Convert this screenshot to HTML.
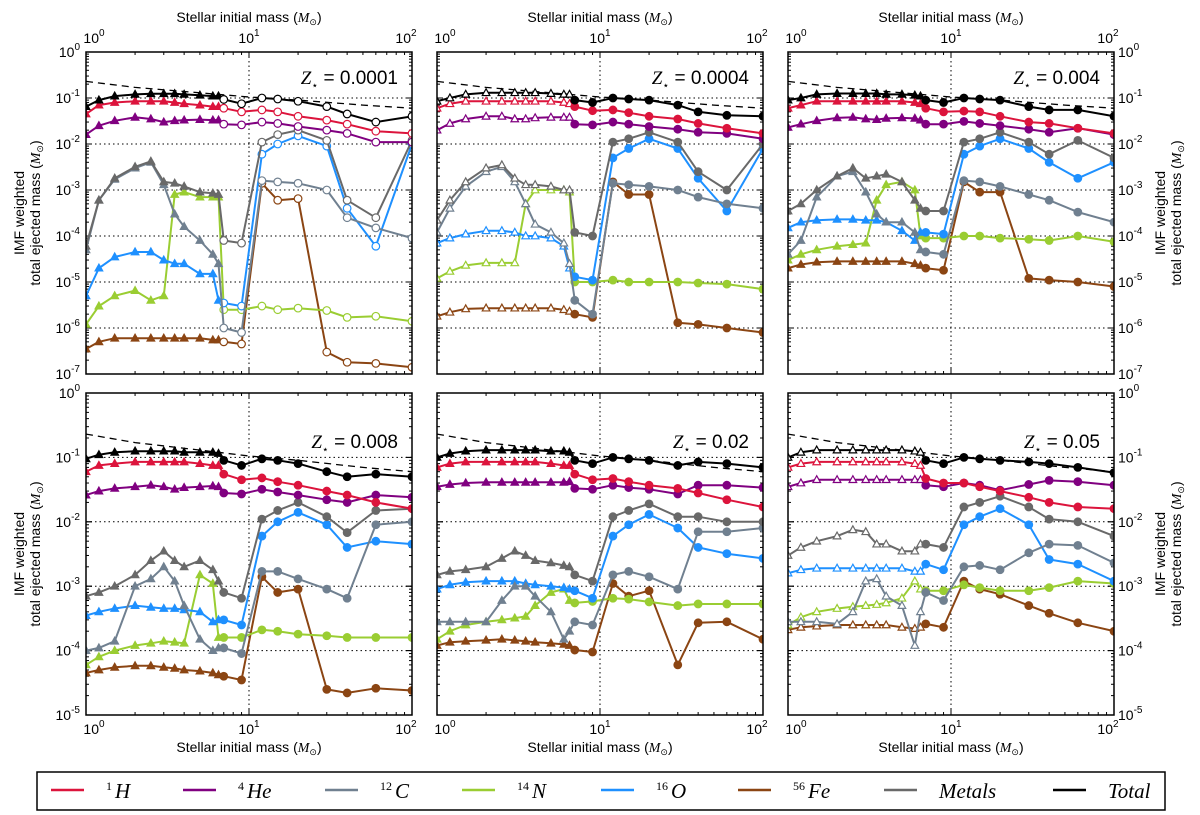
<!DOCTYPE html>
<html><head><meta charset="utf-8"><title>IMF weighted ejected mass</title>
<style>
html,body{margin:0;padding:0;background:#fff;}
svg{display:block;font-family:"Liberation Sans","DejaVu Sans",sans-serif;}
.tl{font-size:14px;fill:#000;}
.ser{font-family:"Liberation Serif",serif;font-style:italic;}
</style></head>
<body>
<svg id="chart" width="1200" height="815" viewBox="0 0 1200 815" xmlns="http://www.w3.org/2000/svg">
<rect width="1200" height="815" fill="#fff"/>
<g id="panels"></g>
<g id="legend"></g>
</svg>
<script>
// ---- data ----
const masses=[1,1.2,1.5,2,2.5,3,3.5,4,5,6,6.5,7,9,12,15,20,30,40,60,100];
const dashMasses=[1,2,5,10,20,50,100];
const dashVals=[0.23,0.17,0.13,0.105,0.09,0.07,0.06];
const panelZ=["0.0001","0.0004","0.004","0.008","0.02","0.05"];

const p1Total=[0.065,0.09,0.11,0.12,0.124,0.124,0.124,0.12,0.115,0.11,0.11,0.093,0.075,0.1,0.095,0.085,0.065,0.045,0.03,0.04];
const p1H=[0.045,0.07,0.08,0.085,0.085,0.085,0.08,0.075,0.07,0.065,0.065,0.06,0.05,0.055,0.05,0.04,0.033,0.027,0.019,0.017];
const p1He=[0.016,0.025,0.032,0.038,0.035,0.03,0.032,0.033,0.034,0.033,0.033,0.027,0.026,0.03,0.028,0.024,0.02,0.017,0.011,0.011];
const p1Metals=[6e-5,6e-4,1.8e-3,3.2e-3,4.2e-3,1.5e-3,1.4e-3,1.2e-3,9e-4,8.5e-4,8e-4,8e-5,7e-5,1.1e-2,1.6e-2,2e-2,1.2e-2,6e-4,2.5e-4,1.2e-2];
const p1C=[5e-5,6e-4,1.7e-3,3e-3,4e-3,1.3e-3,3e-4,1.6e-4,8e-5,4e-5,2.5e-5,1e-6,8e-7,1.6e-3,1.5e-3,1.4e-3,1e-3,2.5e-4,1.5e-4,9e-5];
const p1O=[5e-6,2e-5,3.5e-5,4.5e-5,4.5e-5,3e-5,2.5e-5,2.5e-5,1.5e-5,1.5e-5,4e-6,3.5e-6,3e-6,6e-3,1e-2,1.5e-2,9e-3,4e-4,6e-5,1e-2];
const p1N=[1.2e-6,3e-6,5e-6,6.5e-6,4e-6,5e-6,8e-4,9e-4,7e-4,7e-4,7e-4,2.5e-6,2.5e-6,3e-6,2.5e-6,2.7e-6,2.4e-6,1.7e-6,1.8e-6,1.4e-6];
const p1Fe=[3.5e-7,5e-7,6e-7,6e-7,6e-7,6e-7,6e-7,6e-7,6e-7,5.5e-7,5.5e-7,5e-7,4.5e-7,1.4e-3,6e-4,6.5e-4,3e-7,1.8e-7,1.7e-7,1.4e-7];

const p2Total=[0.085,0.1,0.12,0.13,0.13,0.13,0.13,0.13,0.125,0.12,0.12,0.09,0.08,0.1,0.095,0.09,0.07,0.05,0.042,0.04];
const p2H=[0.06,0.075,0.085,0.085,0.085,0.085,0.085,0.085,0.085,0.08,0.075,0.065,0.053,0.055,0.048,0.04,0.035,0.028,0.022,0.017];
const p2He=[0.02,0.028,0.035,0.04,0.04,0.035,0.035,0.037,0.038,0.038,0.038,0.027,0.026,0.03,0.027,0.024,0.021,0.018,0.017,0.013];
const p2Metals=[2.2e-4,6e-4,1.5e-3,3e-3,3.5e-3,1.8e-3,1.3e-3,1.3e-3,1.2e-3,1e-3,1e-3,1.2e-4,1e-4,1.1e-2,1.3e-2,1.8e-2,1.1e-2,2.5e-3,1e-3,1e-2];
const p2C=[1.2e-4,4e-4,1.2e-3,2.5e-3,3.2e-3,1.5e-3,5e-4,1.8e-4,1.2e-4,7e-5,2.5e-5,4e-6,2e-6,1.4e-3,1.3e-3,1.2e-3,1e-3,7e-4,5e-4,4e-4];
const p2O=[7e-5,9e-5,1.1e-4,1.3e-4,1.3e-4,1.2e-4,1e-4,1e-4,9e-5,6e-5,2e-5,1.3e-5,1.1e-5,5e-3,8e-3,1.3e-2,8e-3,1.8e-3,3.5e-4,8e-3];
const p2N=[1.2e-5,1.7e-5,2.3e-5,2.6e-5,2.6e-5,2.6e-5,5e-4,1e-3,1e-3,1e-3,9e-4,1e-5,1e-5,1.1e-5,1e-5,1e-5,1e-5,9.5e-6,9e-6,7e-6];
const p2Fe=[1.8e-6,2.2e-6,2.6e-6,2.7e-6,2.7e-6,2.7e-6,2.7e-6,2.7e-6,2.7e-6,2.5e-6,2.3e-6,2e-6,1.7e-6,1.5e-3,8e-4,8e-4,1.3e-6,1.2e-6,1e-6,8e-7];

const p3Total=[0.09,0.1,0.12,0.125,0.125,0.125,0.125,0.12,0.12,0.115,0.11,0.09,0.08,0.1,0.095,0.09,0.065,0.055,0.055,0.04];
const p3H=[0.06,0.07,0.085,0.085,0.085,0.085,0.085,0.085,0.085,0.08,0.075,0.06,0.05,0.052,0.05,0.04,0.03,0.028,0.022,0.017];
const p3He=[0.023,0.027,0.032,0.037,0.038,0.035,0.034,0.036,0.037,0.036,0.033,0.027,0.027,0.031,0.028,0.025,0.021,0.018,0.022,0.016];
const p3Metals=[3.5e-4,5e-4,1e-3,2e-3,3e-3,1.8e-3,2e-3,2.2e-3,1.5e-3,6e-4,4e-4,3.5e-4,3.5e-4,1.1e-2,1.3e-2,1.8e-2,1.1e-2,6e-3,1.2e-2,5e-3];
const p3C=[4e-5,8e-5,7e-4,2e-3,2.5e-3,9e-4,3e-4,2e-4,2e-4,1.2e-4,5e-5,4.5e-5,4e-5,1.6e-3,1.5e-3,1.2e-3,8e-4,6e-4,3.3e-4,2e-4];
const p3O=[1.5e-4,2e-4,2.2e-4,2.3e-4,2.3e-4,2.2e-4,2.2e-4,2e-4,1.3e-4,8e-5,1.2e-4,1.2e-4,1.1e-4,6e-3,9e-3,1.3e-2,8e-3,4e-3,1.8e-3,4e-3];
const p3N=[3e-5,4e-5,5e-5,6e-5,6.5e-5,7e-5,6e-4,1.3e-3,1.5e-3,1e-3,1e-4,9e-5,9e-5,1e-4,1e-4,9e-5,8.5e-5,8e-5,1e-4,7.5e-5];
const p3Fe=[2e-5,2.4e-5,2.7e-5,2.8e-5,2.8e-5,2.8e-5,2.8e-5,2.8e-5,2.8e-5,2.5e-5,2.3e-5,2e-5,1.8e-5,1.5e-3,9e-4,9e-4,1.2e-5,1.1e-5,1e-5,8e-6];

const p4Total=[0.095,0.11,0.12,0.125,0.125,0.125,0.125,0.12,0.12,0.12,0.115,0.09,0.075,0.095,0.09,0.08,0.06,0.05,0.055,0.05];
const p4H=[0.06,0.075,0.08,0.085,0.085,0.085,0.085,0.085,0.08,0.075,0.075,0.055,0.045,0.048,0.042,0.037,0.03,0.026,0.02,0.016];
const p4He=[0.026,0.03,0.033,0.035,0.037,0.035,0.032,0.034,0.035,0.036,0.035,0.028,0.027,0.032,0.029,0.026,0.022,0.02,0.026,0.024];
const p4Metals=[7e-4,8e-4,1e-3,1.5e-3,2.5e-3,3.5e-3,2.5e-3,2e-3,2.5e-3,1.8e-3,1.2e-3,8e-4,6.5e-4,1.1e-2,1.5e-2,2e-2,1.2e-2,6.8e-3,1.5e-2,1.6e-2];
const p4C=[1e-4,1.1e-4,1.4e-4,1e-3,1.3e-3,2e-3,1.2e-3,5e-4,1.5e-4,1e-4,1.1e-4,1.1e-4,9e-5,1.7e-3,1.7e-3,1.3e-3,9e-4,6.5e-4,9e-3,1e-2];
const p4O=[3.5e-4,4e-4,4.5e-4,5e-4,4.7e-4,4.5e-4,4.5e-4,4.3e-4,4e-4,2.8e-4,3e-4,3e-4,2.5e-4,6e-3,1e-2,1.4e-2,9e-3,4e-3,5e-3,4.5e-3];
const p4N=[6e-5,8e-5,1e-4,1.2e-4,1.3e-4,1.4e-4,1.35e-4,1.3e-4,1.5e-3,1.1e-3,1.6e-4,1.6e-4,1.6e-4,2.1e-4,2e-4,1.8e-4,1.7e-4,1.6e-4,1.6e-4,1.6e-4];
const p4Fe=[4.5e-5,5e-5,5.5e-5,5.8e-5,5.8e-5,5.5e-5,5.3e-5,5e-5,4.8e-5,4.5e-5,4.2e-5,4e-5,3.5e-5,1.4e-3,8e-4,9e-4,2.5e-5,2.2e-5,2.6e-5,2.4e-5];

const p5Total=[0.1,0.115,0.125,0.13,0.13,0.13,0.13,0.13,0.125,0.125,0.12,0.09,0.08,0.1,0.095,0.09,0.075,0.085,0.08,0.07];
const p5H=[0.07,0.08,0.085,0.085,0.085,0.085,0.085,0.085,0.08,0.075,0.075,0.055,0.045,0.047,0.042,0.037,0.033,0.028,0.022,0.017];
const p5He=[0.035,0.038,0.04,0.041,0.041,0.041,0.041,0.041,0.041,0.041,0.042,0.033,0.032,0.037,0.034,0.032,0.027,0.037,0.037,0.034];
const p5Metals=[1.5e-3,1.7e-3,1.8e-3,2e-3,2.7e-3,3.5e-3,3e-3,2.5e-3,2.3e-3,2.1e-3,2e-3,1.5e-3,1.2e-3,1.2e-2,1.5e-2,1.9e-2,1.2e-2,1.2e-2,1e-2,1e-2];
const p5C=[2.8e-4,2.8e-4,2.8e-4,2.8e-4,6e-4,1e-3,1e-3,7e-4,4e-4,1.5e-4,2e-4,2.8e-4,2.5e-4,1.5e-3,1.7e-3,1.4e-3,9e-4,7e-3,7e-3,8e-3];
const p5O=[9e-4,1.05e-3,1.15e-3,1.2e-3,1.2e-3,1.2e-3,1.1e-3,1.05e-3,1e-3,9.5e-4,9e-4,8.5e-4,6.5e-4,6e-3,9e-3,1.3e-2,8e-3,4e-3,3.2e-3,2.7e-3];
const p5N=[1.5e-4,2e-4,2.5e-4,2.8e-4,3e-4,3.2e-4,3.4e-4,5e-4,8e-4,9e-4,6e-4,5.5e-4,5.8e-4,6.5e-4,6.3e-4,5.7e-4,5e-4,5.3e-4,5.3e-4,5.3e-4];
const p5Fe=[1.2e-4,1.35e-4,1.4e-4,1.45e-4,1.5e-4,1.45e-4,1.4e-4,1.35e-4,1.3e-4,1.25e-4,1.2e-4,1.02e-4,9.5e-5,1.1e-3,7e-4,8.5e-4,6e-5,2.7e-4,2.8e-4,1.5e-4];

const p6Total=[0.1,0.12,0.13,0.13,0.13,0.13,0.13,0.13,0.13,0.125,0.12,0.09,0.08,0.1,0.095,0.09,0.085,0.08,0.07,0.058];
const p6H=[0.07,0.08,0.085,0.085,0.085,0.085,0.085,0.085,0.085,0.08,0.075,0.047,0.04,0.04,0.035,0.03,0.024,0.02,0.017,0.016];
const p6He=[0.035,0.04,0.045,0.045,0.045,0.045,0.045,0.045,0.045,0.045,0.045,0.037,0.035,0.04,0.037,0.031,0.038,0.044,0.042,0.037];
const p6Metals=[3e-3,4e-3,5e-3,6e-3,7.5e-3,7e-3,4.5e-3,4.5e-3,3.5e-3,3.5e-3,4.5e-3,4.5e-3,4e-3,1.7e-2,2e-2,2.5e-2,1.7e-2,1.1e-2,1e-2,6e-3];
const p6C=[2.8e-4,2.8e-4,2.8e-4,2.6e-4,4e-4,1.2e-3,1.3e-3,7e-4,5e-4,1.2e-4,4e-4,8e-4,6e-4,2e-3,2.1e-3,1.8e-3,3.3e-3,4.5e-3,4.3e-3,2.3e-3];
const p6O=[1.6e-3,1.8e-3,1.9e-3,1.9e-3,1.9e-3,1.9e-3,1.9e-3,1.9e-3,1.9e-3,1.7e-3,1.7e-3,2.2e-3,1.8e-3,9e-3,1.2e-2,1.6e-2,9e-3,2.6e-3,2.2e-3,1.2e-3];
const p6N=[2.5e-4,3.3e-4,4e-4,4.5e-4,4.8e-4,5e-4,5.2e-4,5.5e-4,6.5e-4,1.2e-3,9e-4,8.5e-4,8.5e-4,1.05e-3,9.5e-4,8.5e-4,8.5e-4,9.5e-4,1.2e-3,1.1e-3];
const p6Fe=[2.1e-4,2.3e-4,2.4e-4,2.5e-4,2.5e-4,2.5e-4,2.5e-4,2.5e-4,2.3e-4,2.2e-4,2.3e-4,2.6e-4,2.3e-4,1.2e-3,9e-4,7.5e-4,5e-4,3.8e-4,2.7e-4,2e-4];

const seriesNames=["Fe","N","O","C","Metals","He","H","Total"];
const seriesColors={H:"#dc143c",He:"#800080",C:"#708090",N:"#9acd32",O:"#1e90ff",Fe:"#8b4513",Metals:"#696969",Total:"#000000"};
const panelData=[
 {H:p1H,He:p1He,C:p1C,N:p1N,O:p1O,Fe:p1Fe,Metals:p1Metals,Total:p1Total},
 {H:p2H,He:p2He,C:p2C,N:p2N,O:p2O,Fe:p2Fe,Metals:p2Metals,Total:p2Total},
 {H:p3H,He:p3He,C:p3C,N:p3N,O:p3O,Fe:p3Fe,Metals:p3Metals,Total:p3Total},
 {H:p4H,He:p4He,C:p4C,N:p4N,O:p4O,Fe:p4Fe,Metals:p4Metals,Total:p4Total},
 {H:p5H,He:p5He,C:p5C,N:p5N,O:p5O,Fe:p5Fe,Metals:p5Metals,Total:p5Total},
 {H:p6H,He:p6He,C:p6C,N:p6N,O:p6O,Fe:p6Fe,Metals:p6Metals,Total:p6Total}];
const triFilled=[true,false,true,true,true,false];
const circFilled=[false,true,true,true,true,true];

// ---- layout ----
const NS="http://www.w3.org/2000/svg";
const colX=[86,437,788], W=326;
const rowY=[52,393], Hh=322;
const rowDec=[7,5];
function mk(tag,attrs,parent){const e=document.createElementNS(NS,tag);for(const k in attrs)e.setAttribute(k,attrs[k]);if(parent)parent.appendChild(e);return e;}
function xS(p,m){return p.x+Math.log10(m)/2*W;}
function yS(p,v){return p.y+(-Math.log10(v))/p.dec*Hh;}
function pow10(parent,x,y,exp,anchor,name){
  const t=mk("text",{x:x,y:y,class:"tl","text-anchor":anchor},parent);
  
  
  t.appendChild(document.createTextNode("10"));
  const s=mk("tspan",{dy:-7,"font-size":"10"},t);s.textContent=String(exp);
  return t;
}
const root=document.getElementById("panels");
for(let i=0;i<6;i++){
  const r=Math.floor(i/3), c=i%3;
  const p={x:colX[c],y:rowY[r],dec:rowDec[r]};
  const g=mk("g",{},root);
  
  
  mk("clipPath",{id:"cp"+i},g).appendChild(mk("rect",{x:p.x,y:p.y,width:W,height:Hh}));
  const grid=mk("g",{stroke:"#000","stroke-width":1,"stroke-dasharray":"1.5,3"},g);
  
  
  for(let d=1;d<p.dec;d++){const yy=p.y+d/p.dec*Hh;mk("line",{x1:p.x,x2:p.x+W,y1:yy,y2:yy},grid);}
  mk("line",{x1:xS(p,10),x2:xS(p,10),y1:p.y,y2:p.y+Hh},grid);
  const tk=mk("g",{stroke:"#000","stroke-width":1},g);
  
  
  for(let dd=0;dd<2;dd++)for(let k=1;k<=10;k++){const xx=xS(p,k*Math.pow(10,dd));const L=(k===1||k===10)?6:3;
    mk("line",{x1:xx,x2:xx,y1:p.y,y2:p.y+L},tk);mk("line",{x1:xx,x2:xx,y1:p.y+Hh,y2:p.y+Hh-L},tk);}
  for(let d=0;d<p.dec;d++)for(let k=1;k<=10;k++){const v=Math.pow(10,-d-1)*k;const yy=yS(p,v);const L=(k===1||k===10)?6:3;
    mk("line",{x1:p.x,x2:p.x+L,y1:yy,y2:yy},tk);mk("line",{x1:p.x+W,x2:p.x+W-L,y1:yy,y2:yy},tk);}
  const dpts=dashMasses.map((m,j)=>xS(p,m).toFixed(1)+","+yS(p,dashVals[j]).toFixed(1)).join(" ");
  const dl=mk("polyline",{points:dpts,fill:"none",stroke:"#000","stroke-width":1.3,"stroke-dasharray":"7,5","clip-path":"url(#cp"+i+")"},g);
  
  
  for(const s of seriesNames){
    const vals=panelData[i][s], col=seriesColors[s];
    const sg=mk("g",{"clip-path":"url(#cp"+i+")"},g);
    
    
    const pts=masses.map((m,j)=>xS(p,m).toFixed(1)+","+yS(p,vals[j]).toFixed(1)).join(" ");
    mk("polyline",{points:pts,fill:"none",stroke:col,"stroke-width":2,"stroke-linejoin":"round"},sg);
    masses.forEach((m,j)=>{
      const cx=xS(p,m), cy=yS(p,vals[j]);
      let e;
      if(m<7){const f=triFilled[i];
        e=mk("polygon",{points:`${cx},${cy-4} ${cx-3.8},${cy+2.8} ${cx+3.8},${cy+2.8}`,fill:f?col:"#fff",stroke:col,"stroke-width":1.2},sg);
      }else{const f=circFilled[i];
        e=mk("circle",{cx:cx,cy:cy,r:3.8,fill:f?col:"#fff",stroke:col,"stroke-width":1.2},sg);}
      
      
    });
  }
  const fr=mk("rect",{x:p.x,y:p.y,width:W,height:Hh,fill:"none",stroke:"#000","stroke-width":1.5},g);
  
  
  const zt=mk("text",{x:p.x+W-14,y:p.y+(r===0?32:55),"text-anchor":"end","font-size":"19"},g);
  
  
  const z1=mk("tspan",{class:"ser"},zt);z1.textContent="Z";
  const z2=mk("tspan",{dy:5,"font-size":"11"},zt);z2.textContent="\u22c6";
  const z3=mk("tspan",{dy:-5},zt);z3.textContent=" = "+panelZ[i];
  const xl=r===0?p.y-9:p.y+Hh+19;
  [[1,0],[10,1],[100,2]].forEach(([m,e])=>pow10(g,xS(p,m)+(e===0?8:e===2?-6:0),xl,e,"middle","x-tick-label"));
  if(c!==1){for(let d=0;d<=p.dec;d++){const yy=p.y+d/p.dec*Hh+5;
    if(c===0)pow10(g,p.x-6,yy,-d,"end","y-tick-label");else pow10(g,p.x+W+4,yy,-d,"start","y-tick-label");}}
}
function xTitle(cx,y){const t=mk("text",{x:cx,y:y,"text-anchor":"middle","font-size":"14"},root);
  
  
  t.appendChild(document.createTextNode("Stellar initial mass ("));
  const a=mk("tspan",{class:"ser"},t);a.textContent="M";
  const b=mk("tspan",{dy:3,"font-size":"9"},t);b.textContent="\u2299";
  const d=mk("tspan",{dy:-3},t);d.textContent=")";}
for(let c=0;c<3;c++){xTitle(colX[c]+W/2,22);xTitle(colX[c]+W/2,752);}
function yTitle(x,cy){const g=mk("g",{transform:`translate(${x},${cy}) rotate(-90)`},root);
  
  
  const t1=mk("text",{x:0,y:0,"text-anchor":"middle","font-size":"14"},g);t1.textContent="IMF weighted";
  const t2=mk("text",{x:0,y:16,"text-anchor":"middle","font-size":"14"},g);
  t2.appendChild(document.createTextNode("total ejected mass ("));
  const a=mk("tspan",{class:"ser"},t2);a.textContent="M";
  const b=mk("tspan",{dy:3,"font-size":"9"},t2);b.textContent="\u2299";
  const d=mk("tspan",{dy:-3},t2);d.textContent=")";}
yTitle(24,213);yTitle(24,554);yTitle(1165,213);yTitle(1165,554);
// legend
const lg=document.getElementById("legend");
const lb=mk("rect",{x:37,y:772,width:1128,height:38,fill:"#fff",stroke:"#000","stroke-width":1.5},lg);


const legItems=[["H","1","H",51],["He","4","He",183],["C","12","C",325],["N","14","N",462],["O","16","O",601],["Fe","56","Fe",738],["Metals","","Metals",884],["Total","","Total",1053]];
legItems.forEach(([k,iso,lab,x])=>{
  const eg=mk("g",{},lg);
  
  
  const len=33;
  mk("line",{x1:x,x2:x+len,y1:790,y2:790,stroke:seriesColors[k],"stroke-width":2.5},eg);
  const t=mk("text",{x:x+len+(iso?22:22),y:798,"font-size":"21","font-family":"Liberation Serif,serif"},eg);
  if(iso){const s=mk("tspan",{"font-size":"12",dy:-8},t);s.textContent=iso;
    const m=mk("tspan",{"font-style":"italic",dy:8,dx:3},t);m.textContent=lab;}
  else{const m=mk("tspan",{"font-style":"italic"},t);m.textContent=lab;}
});
</script>
</body></html>
